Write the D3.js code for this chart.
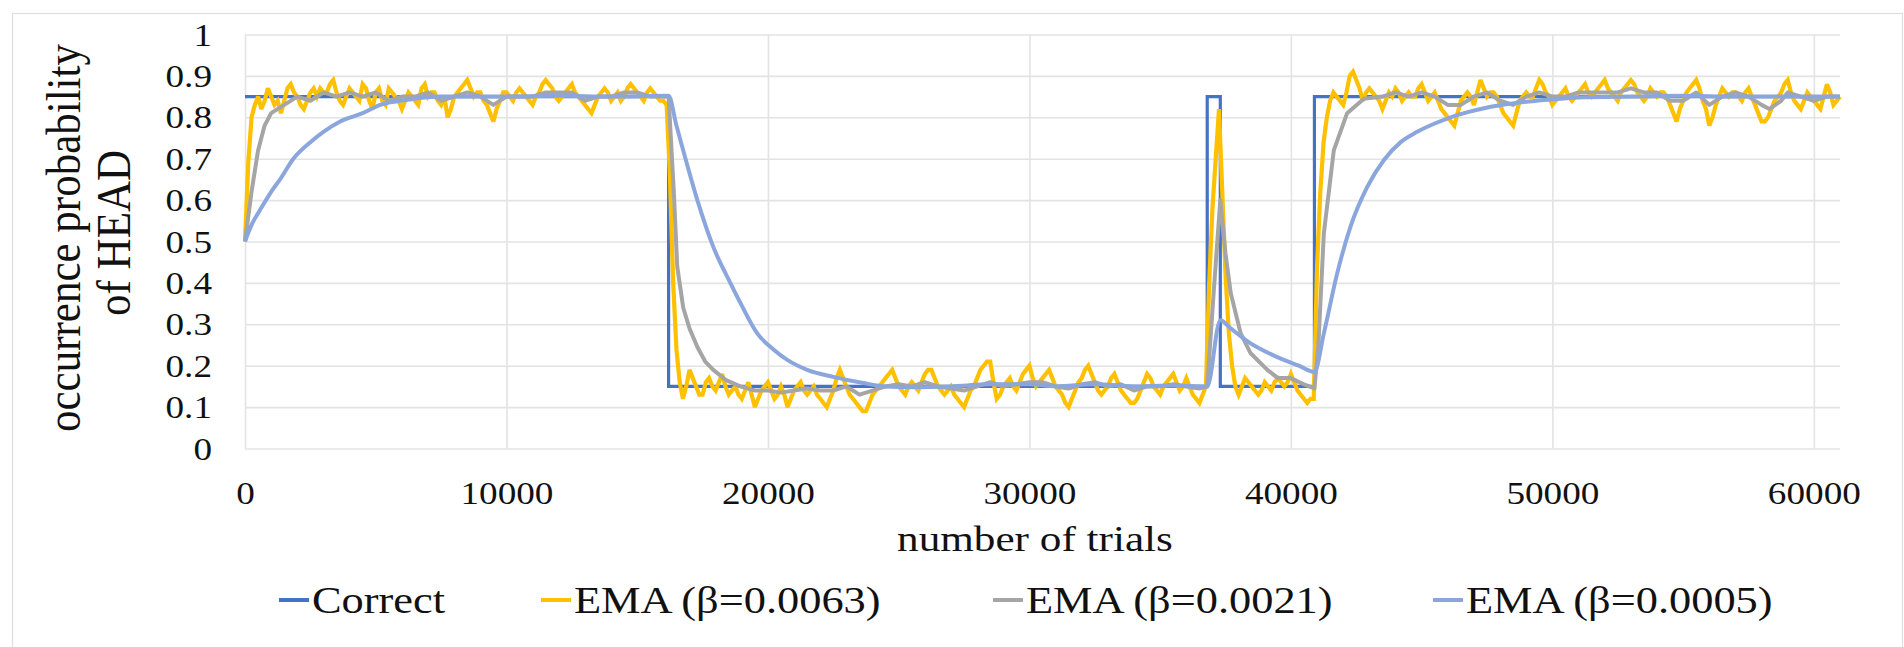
<!DOCTYPE html>
<html>
<head>
<meta charset="utf-8">
<script src="https://cdn.jsdelivr.net/npm/d3@7"></script>
<style>
  html, body { margin: 0; padding: 0; background: #fff; }
  svg { display: block; }
</style>
</head>
<body>
<svg id="chart" width="1904" height="647"></svg>
<script>
// ---------------- DATA ----------------
const xTicks = [0, 10000, 20000, 30000, 40000, 50000, 60000];
const xTickLabels = ["0", "10000", "20000", "30000", "40000", "50000", "60000"];
const yTicks = [0, 0.1, 0.2, 0.3, 0.4, 0.5, 0.6, 0.7, 0.8, 0.9, 1];
const yTickLabels = ["0", "0.1", "0.2", "0.3", "0.4", "0.5", "0.6", "0.7", "0.8", "0.9", "1"];
const seriesNames = ["Correct", "EMA (β=0.0063)", "EMA (β=0.0021)", "EMA (β=0.0005)"];

// Correct probability (step function: value holds until next point)
const correct = [[0,0.85],[16200,0.15],[36800,0.85],[37300,0.15],[40900,0.85],[61000,0.85]];

// EMA beta = 0.0063 (noisy), one reading every 125 trials, 16 readings per row (2000 trials)
const emaFastStep = 125;
const emaFast = [
 0.50,0.69,0.80,0.83,0.85,0.82,0.84,0.87,0.85,0.83,0.84,0.81,0.84,0.87,0.88,0.86, //     0
 0.85,0.83,0.82,0.84,0.86,0.87,0.85,0.87,0.86,0.86,0.88,0.89,0.86,0.84,0.83,0.85, //  2000
 0.87,0.86,0.85,0.84,0.88,0.87,0.84,0.82,0.86,0.87,0.84,0.83,0.87,0.86,0.85,0.84, //  4000
 0.82,0.84,0.86,0.85,0.84,0.83,0.87,0.88,0.85,0.86,0.86,0.84,0.83,0.85,0.80,0.82, //  6000
 0.85,0.86,0.87,0.88,0.89,0.87,0.85,0.86,0.86,0.84,0.83,0.81,0.79,0.82,0.84,0.86, //  8000
 0.86,0.85,0.84,0.86,0.87,0.86,0.85,0.84,0.83,0.85,0.86,0.88,0.89,0.88,0.87,0.85, // 10000
 0.84,0.85,0.86,0.87,0.88,0.86,0.85,0.84,0.83,0.82,0.81,0.83,0.85,0.86,0.87,0.86, // 12000
 0.84,0.85,0.86,0.84,0.85,0.87,0.88,0.87,0.86,0.85,0.84,0.86,0.87,0.86,0.85,0.84, // 14000
 0.84,0.83,0.66,0.40,0.24,0.16,0.12,0.15,0.19,0.17,0.15,0.13,0.13,0.16,0.17,0.15, // 16000
 0.14,0.16,0.18,0.15,0.13,0.14,0.15,0.13,0.12,0.14,0.16,0.13,0.10,0.12,0.14,0.15, // 18000
 0.16,0.14,0.12,0.13,0.15,0.13,0.10,0.12,0.14,0.15,0.16,0.14,0.13,0.14,0.15,0.13, // 20000
 0.12,0.11,0.10,0.12,0.14,0.17,0.19,0.17,0.15,0.13,0.12,0.11,0.10,0.09,0.09,0.11, // 22000
 0.13,0.14,0.15,0.16,0.17,0.18,0.19,0.17,0.15,0.14,0.13,0.15,0.16,0.15,0.14,0.16, // 24000
 0.18,0.19,0.19,0.17,0.15,0.14,0.13,0.14,0.15,0.13,0.12,0.11,0.10,0.12,0.14,0.15, // 26000
 0.17,0.19,0.20,0.21,0.21,0.16,0.12,0.13,0.15,0.16,0.17,0.15,0.14,0.16,0.18,0.19, // 28000
 0.20,0.17,0.15,0.16,0.17,0.18,0.19,0.17,0.15,0.14,0.13,0.11,0.10,0.12,0.14,0.16, // 30000
 0.17,0.19,0.20,0.18,0.16,0.14,0.13,0.14,0.15,0.17,0.18,0.16,0.14,0.13,0.12,0.11, // 32000
 0.11,0.12,0.14,0.16,0.18,0.17,0.15,0.14,0.13,0.15,0.16,0.17,0.18,0.16,0.14,0.15, // 34000
 0.17,0.15,0.13,0.12,0.11,0.13,0.15,0.40,0.58,0.70,0.82,0.62,0.42,0.28,0.20,0.15, // 36000
 0.13,0.15,0.17,0.16,0.15,0.14,0.13,0.14,0.16,0.15,0.14,0.16,0.17,0.16,0.15,0.16, // 38000
 0.18,0.16,0.14,0.13,0.12,0.11,0.12,0.12,0.44,0.62,0.74,0.80,0.84,0.86,0.85,0.84, // 40000
 0.83,0.86,0.90,0.91,0.89,0.87,0.84,0.86,0.87,0.86,0.85,0.84,0.82,0.84,0.86,0.85, // 42000
 0.87,0.86,0.84,0.85,0.86,0.85,0.85,0.87,0.88,0.86,0.84,0.85,0.86,0.84,0.82,0.81, // 44000
 0.80,0.79,0.78,0.81,0.84,0.85,0.86,0.85,0.83,0.86,0.89,0.87,0.85,0.86,0.86,0.85, // 46000
 0.83,0.81,0.80,0.79,0.78,0.81,0.84,0.85,0.86,0.85,0.85,0.87,0.89,0.88,0.86,0.85, // 48000
 0.83,0.84,0.85,0.86,0.87,0.85,0.84,0.85,0.86,0.87,0.88,0.86,0.85,0.86,0.87,0.88, // 50000
 0.89,0.87,0.86,0.85,0.84,0.86,0.87,0.88,0.89,0.88,0.86,0.85,0.84,0.85,0.87,0.86, // 52000
 0.85,0.86,0.86,0.85,0.83,0.81,0.79,0.82,0.84,0.86,0.87,0.88,0.89,0.87,0.84,0.82, // 54000
 0.78,0.80,0.83,0.85,0.87,0.86,0.85,0.86,0.86,0.85,0.84,0.86,0.87,0.85,0.83,0.81, // 56000
 0.79,0.79,0.80,0.82,0.84,0.85,0.86,0.88,0.89,0.86,0.84,0.83,0.82,0.84,0.86,0.85, // 58000
 0.84,0.83,0.82,0.85,0.88,0.86,0.83,0.84,0.85                                      // 60000
];

// EMA beta = 0.0021  [trial, value]
const emaMid = [
 [0,0.50],[250,0.62],[500,0.72],[750,0.78],[1000,0.81],[1500,0.83],[2000,0.85],[2500,0.84],[3000,0.86],[3500,0.85],
 [4000,0.86],[4500,0.85],[5000,0.86],[5500,0.84],[6000,0.85],[6500,0.85],[7000,0.86],[7500,0.84],[8000,0.85],[8500,0.86],
 [9000,0.85],[9500,0.83],[10000,0.85],[10500,0.85],[11000,0.85],[11500,0.86],[12000,0.86],[12500,0.86],[13000,0.84],[13500,0.85],
 [14000,0.85],[14500,0.86],[15000,0.86],[15500,0.85],[16000,0.85],[16200,0.85],[16400,0.62],[16530,0.44],[16760,0.34],[17000,0.29],
 [17300,0.245],[17600,0.21],[17910,0.19],[18400,0.165],[18940,0.15],[19500,0.14],[20000,0.14],[20500,0.135],[21000,0.14],[21500,0.145],
 [22000,0.14],[22500,0.14],[23000,0.15],[23500,0.13],[24000,0.14],[24500,0.15],[25000,0.155],[25500,0.15],[26000,0.16],[26500,0.15],
 [27000,0.145],[27500,0.14],[28000,0.15],[28500,0.16],[29000,0.15],[29500,0.155],[30000,0.16],[30500,0.16],[31000,0.15],[31500,0.145],
 [32000,0.155],[32500,0.16],[33000,0.15],[33500,0.155],[34000,0.14],[34500,0.15],[35000,0.15],[35500,0.155],[36000,0.15],[36500,0.145],
 [36800,0.15],[37050,0.38],[37300,0.60],[37500,0.47],[37700,0.375],[38080,0.278],[38460,0.23],[39100,0.19],[39500,0.17],[39990,0.17],
 [40500,0.155],[40900,0.145],[41050,0.25],[41260,0.52],[41640,0.72],[42150,0.81],[42790,0.845],[43500,0.85],[44000,0.86],[44500,0.85],
 [45000,0.86],[45500,0.85],[46000,0.83],[46500,0.83],[47000,0.85],[47500,0.86],[48000,0.84],[48500,0.83],[49000,0.85],[49500,0.86],
 [50000,0.85],[50500,0.85],[51000,0.86],[51500,0.86],[52000,0.86],[52500,0.86],[53000,0.87],[53500,0.86],[54000,0.86],[54500,0.84],
 [55000,0.84],[55500,0.86],[56000,0.83],[56500,0.85],[57000,0.86],[57500,0.85],[58000,0.83],[58300,0.82],[58750,0.84],[59000,0.86],
 [59500,0.85],[60000,0.84],[60500,0.85],[61000,0.85]
];

// EMA beta = 0.0005 (smooth)  [trial, value]
const emaSlow = [
 [0,0.50],[250,0.54],[574,0.576],[1000,0.62],[1340,0.65],[1850,0.70],[2500,0.74],[3000,0.765],[3640,0.79],[4500,0.81],
 [5170,0.83],[6190,0.842],[7460,0.85],[8500,0.85],[10000,0.85],[12000,0.852],[14000,0.85],[16200,0.852],[16500,0.78],[16760,0.72],
 [17300,0.60],[17910,0.487],[18560,0.40],[19000,0.345],[19590,0.278],[20200,0.24],[20740,0.214],[21500,0.19],[22500,0.173],[23650,0.158],
 [24500,0.15],[25500,0.148],[27000,0.15],[28500,0.155],[30000,0.155],[31000,0.15],[32500,0.155],[34000,0.15],[35500,0.152],[36800,0.15],
 [37300,0.31],[37700,0.29],[38460,0.254],[39100,0.232],[39730,0.214],[40300,0.20],[40900,0.185],[41260,0.278],[41770,0.423],[42280,0.536],
 [42920,0.632],[43560,0.697],[44200,0.74],[44830,0.765],[45500,0.785],[46110,0.80],[46800,0.813],[47390,0.822],[48670,0.835],[49950,0.843],
 [51000,0.848],[53000,0.85],[55000,0.852],[57000,0.85],[59000,0.85],[61000,0.85]
];

// ---------------- LAYOUT / STYLE ----------------
const W = 1904, H = 647;
const X0 = 245, X1 = 1840, Y0 = 448.5, Y1 = 34.5;
const SX = 1.2;            // horizontal stretch of text, as in the reference
const FONT = "'Liberation Serif','Times New Roman',serif";
const colors = ["#4472C4", "#FFC000", "#A5A5A5", "#8AA6DC"];
const widths = [3.2, 4.2, 4, 4];
const gridColor = "#e3e3e3";
const textColor = "#111";

const svg = d3.select("#chart");
svg.append("rect").attr("x", 0).attr("y", 0).attr("width", W).attr("height", H).attr("fill", "#fff");
svg.append("rect").attr("x", 12.5).attr("y", 13.5).attr("width", 1890).attr("height", 640)
  .attr("fill", "none").attr("stroke", "#dedede").attr("stroke-width", 1.2);

const x = d3.scaleLinear().domain([0, 61000]).range([X0, X1]);
const y = d3.scaleLinear().domain([0, 1]).range([Y0, Y1]);

// Y axis + horizontal gridlines
const gY = svg.append("g").attr("transform", `translate(${X0},0)`)
  .call(d3.axisLeft(y).tickValues(yTicks).tickFormat((d, i) => yTickLabels[i]).tickSize(-(X1 - X0)));
gY.select(".domain").remove();
gY.selectAll(".tick line").attr("stroke", gridColor).attr("stroke-width", 1.6);
gY.selectAll(".tick text")
  .attr("x", 0).attr("dy", "0.34em")
  .attr("transform", `translate(${212 - X0},0) scale(${SX},1)`)
  .attr("text-anchor", "end")
  .attr("fill", textColor)
  .style("font-family", FONT).style("font-size", "31px");

// X axis + vertical gridlines
const gX = svg.append("g").attr("transform", `translate(0,${Y0})`)
  .call(d3.axisBottom(x).tickValues(xTicks).tickFormat((d, i) => xTickLabels[i]).tickSize(-(Y0 - Y1)));
gX.select(".domain").remove();
gX.selectAll(".tick line").attr("stroke", gridColor).attr("stroke-width", 1.6);
gX.selectAll(".tick text")
  .attr("y", 0).attr("dy", null)
  .attr("transform", `translate(0,${504 - Y0}) scale(${SX},1)`)
  .attr("text-anchor", "middle")
  .attr("fill", textColor)
  .style("font-family", FONT).style("font-size", "31px");

// Series
const lineLinear = d3.line().x(d => x(d[0])).y(d => y(d[1]));
const lineFast = d3.line().x((d, i) => x(i * emaFastStep)).y(d => y(d));
const lineStep = d3.line().x(d => x(d[0])).y(d => y(d[1])).curve(d3.curveStepAfter);
const lineSmooth = d3.line().x(d => x(d[0])).y(d => y(d[1])).curve(d3.curveMonotoneX);

const plot = svg.append("g");
plot.append("path").datum(correct).attr("d", lineStep)
  .attr("fill", "none").attr("stroke", colors[0]).attr("stroke-width", widths[0]).attr("stroke-linejoin", "miter");
plot.append("path").datum(emaFast).attr("d", lineFast)
  .attr("fill", "none").attr("stroke", colors[1]).attr("stroke-width", widths[1]).attr("stroke-linejoin", "miter").attr("stroke-miterlimit", 3);
plot.append("path").datum(emaMid).attr("d", lineLinear)
  .attr("fill", "none").attr("stroke", colors[2]).attr("stroke-width", widths[2]).attr("stroke-linejoin", "round");
plot.append("path").datum(emaSlow).attr("d", lineSmooth)
  .attr("fill", "none").attr("stroke", colors[3]).attr("stroke-width", widths[3]).attr("stroke-linejoin", "round");

// Axis titles
svg.append("text")
  .attr("transform", `translate(1035,551) scale(${SX},1)`)
  .attr("text-anchor", "middle").attr("fill", textColor)
  .style("font-family", FONT).style("font-size", "36px")
  .text("number of trials");

svg.append("text")
  .attr("transform", `translate(80,238) scale(1.13,1) rotate(-90)`)
  .attr("text-anchor", "middle").attr("fill", textColor)
  .style("font-family", FONT).style("font-size", "43px")
  .text("occurrence probability");
svg.append("text")
  .attr("transform", `translate(130,233) scale(1.13,1) rotate(-90)`)
  .attr("text-anchor", "middle").attr("fill", textColor)
  .style("font-family", FONT).style("font-size", "43px")
  .text("of HEAD");

// Legend
const legendX = [279, 541, 993, 1433];
const leg = svg.append("g");
seriesNames.forEach((name, i) => {
  const g = leg.append("g").attr("transform", `translate(${legendX[i]},0)`);
  g.append("line").attr("x1", 0).attr("x2", 30).attr("y1", 600).attr("y2", 600)
    .attr("stroke", colors[i]).attr("stroke-width", 4);
  g.append("text").attr("transform", `translate(33,613) scale(${SX},1)`)
    .attr("fill", textColor)
    .style("font-family", FONT).style("font-size", "37px")
    .text(name);
});
</script>
</body>
</html>
